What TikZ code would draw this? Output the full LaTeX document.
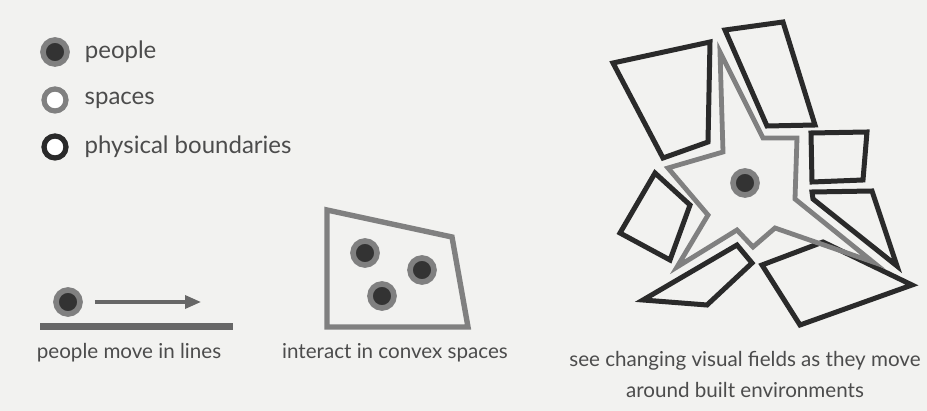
\documentclass[tikz,border=0pt]{standalone}
\usepackage{fontspec}
\setmainfont{Lato}
\usetikzlibrary{arrows.meta,positioning}

\definecolor{paper}{HTML}{F2F2F0}
\definecolor{ink}{HTML}{4C4C4C}
\definecolor{wall}{HTML}{2A2A2A}
\definecolor{room}{HTML}{808080}
\definecolor{core}{HTML}{333333}

\begin{document}
\begin{tikzpicture}[x=0.5pt,y=-0.5pt,>={Triangle[length=8pt,width=6.5pt]},
  person/.style={circle,draw=room,fill=core,line width=2.8pt,minimum size=12pt,inner sep=0pt},
  spacering/.style={circle,draw=room,fill=white,line width=2.6pt,minimum size=11pt,inner sep=0pt},
  wallring/.style={circle,draw=wall,fill=white,line width=2.6pt,minimum size=11pt,inner sep=0pt},
  legendtext/.style={font=\fontsize{12}{14}\selectfont,text=ink,anchor=west},
  caption/.style={font=\fontsize{10.3}{15.5}\selectfont,text=ink,align=center},
  boundary/.style={draw=wall,line width=2.5pt,line join=miter},
  field/.style={draw=room,line width=2.4pt,line join=miter}]

  % page
  \fill[paper] (0,0) rectangle (927,411);
  \useasboundingbox (0,0) rectangle (927,411);

  % legend
  \node[person] (keyperson) at (55,52) {};
  \node[spacering] (keyspace) at (55,100) {};
  \node[wallring] (keywall) at (55,147) {};
  \node[legendtext,right=4pt of keyperson] (lblperson) {people};
  \node[legendtext,right=4.5pt of keyspace] (lblspace) {spaces};
  \node[legendtext,right=4.5pt of keywall] (lblwall) {physical boundaries};

  % people move in lines
  \draw[room!80!black,line width=3.5pt] (40,327) -- (233,327);
  \node[person] (walker) at (68,302) {};
  \coordinate (goal) at (201,302);
  \draw[->,room!80!black,line width=1.7pt,shorten <=6pt] (walker) -- (goal);
  \node[caption] (capline) at (129,353) {people move in lines};

  % convex space
  \draw[field,line width=2.7pt] (327,210) -- (452,237) -- (468,327) -- (327,327) -- cycle;
  \node[person] (guestA) at (365,253) {};
  \node[person] (guestB) at (422,270) {};
  \node[person] (guestC) at (382,296) {};
  \node[caption] (capconvex) at (395,353) {interact in convex spaces};

  % built environment
  \draw[boundary] (613,63) -- (710,42) -- (708,142) -- (663,158) -- cycle;
  \draw[boundary] (725,30) -- (783,22) -- (815,125) -- (767,126) -- cycle;
  \draw[boundary] (811,133) -- (867,132) -- (863,180) -- (812,182) -- cycle;
  \draw[boundary] (812,192) -- (872,191) -- (897,266) -- (813,199) -- cycle;
  \draw[boundary] (620,233) -- (655,173) -- (690,205) -- (670,260) -- cycle;
  \draw[boundary] (643,300) -- (737,245) -- (752,263) -- (707,305) -- cycle;
  \draw[boundary] (762,265) -- (823,242) -- (912,285) -- (800,325) -- cycle;

  % visual field
  \draw[field] (720,52) -- (763,138) -- (797,138) -- (795,199) -- (873,262)
    -- (775,228) -- (753,247) -- (737,230) -- (677,267) -- (708,215)
    -- (668,168) -- (723,152) -- cycle;
  \node[person] (viewer) at (745,183) {};
  \node[caption] (capfield) at (745,374) {see changing visual fields as they move\\around built environments};
\end{tikzpicture}
\end{document}
